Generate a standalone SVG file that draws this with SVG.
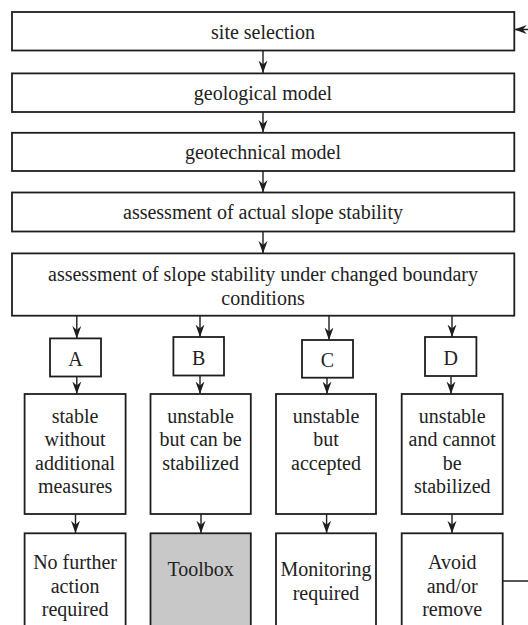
<svg xmlns="http://www.w3.org/2000/svg" width="528" height="625" viewBox="0 0 528 625">
<defs>
<style>
.box{fill:#fff;stroke:#1e1e1e;stroke-width:1.8}
.grey{fill:#c8c8c8;stroke:#1e1e1e;stroke-width:1.8}
.t{font-family:'Liberation Serif','DejaVu Serif',serif;font-size:20px;fill:#222;text-anchor:middle}
.c{fill:none;stroke:#1e1e1e;stroke-width:1.4}
</style>
<marker id="ah" markerUnits="userSpaceOnUse" markerWidth="13" markerHeight="10" viewBox="0 0 13 10" refX="12.5" refY="5" orient="auto">
<path d="M0,0.5 L12.5,5 L0,9.5 L4,5 Z" fill="#1e1e1e"/>
</marker>
</defs>
<g id="connectors">
<line class="c" x1="263" y1="50.5" x2="263" y2="73" marker-end="url(#ah)"/>
<line class="c" x1="263" y1="112" x2="263" y2="132.5" marker-end="url(#ah)"/>
<line class="c" x1="263" y1="171" x2="263" y2="192.5" marker-end="url(#ah)"/>
<line class="c" x1="263" y1="231.5" x2="263" y2="253.4" marker-end="url(#ah)"/>
<line class="c" x1="76.8" y1="315.7" x2="76.8" y2="338.4" marker-end="url(#ah)"/>
<line class="c" x1="200" y1="315.7" x2="200" y2="337" marker-end="url(#ah)"/>
<line class="c" x1="329" y1="315.7" x2="329" y2="340" marker-end="url(#ah)"/>
<line class="c" x1="452" y1="315.7" x2="452" y2="337" marker-end="url(#ah)"/>
<line class="c" x1="76.8" y1="376.5" x2="76.8" y2="394" marker-end="url(#ah)"/>
<line class="c" x1="200" y1="375.5" x2="200" y2="394" marker-end="url(#ah)"/>
<line class="c" x1="327" y1="377.7" x2="327" y2="394" marker-end="url(#ah)"/>
<line class="c" x1="451" y1="376" x2="451" y2="394" marker-end="url(#ah)"/>
<line class="c" x1="75.5" y1="514" x2="75.5" y2="533.3" marker-end="url(#ah)"/>
<line class="c" x1="201" y1="514" x2="201" y2="533.3" marker-end="url(#ah)"/>
<line class="c" x1="326.6" y1="514" x2="326.6" y2="533.3" marker-end="url(#ah)"/>
<line class="c" x1="452" y1="514" x2="452" y2="533.3" marker-end="url(#ah)"/>
<path class="c" d="M502.7,581 H545 V29.5 H514.3" marker-end="url(#ah)"/>
</g>
<g font-family="Liberation Serif, DejaVu Serif, serif">
<g id="site"><rect class="box" x="12" y="12" width="502.3" height="38.5"/><text class="t" x="263" y="38.5">site selection</text></g>
<g id="geological"><rect class="box" x="12" y="73.4" width="502.3" height="38.6"/><text class="t" x="263" y="99.5">geological model</text></g>
<g id="geotechnical"><rect class="box" x="12" y="132.8" width="502.3" height="38.2"/><text class="t" x="263" y="158.5">geotechnical model</text></g>
<g id="actual"><rect class="box" x="12" y="192.5" width="502.3" height="39"/><text class="t" x="263" y="218.5">assessment of actual slope stability</text></g>
<g id="changed"><rect class="box" x="12" y="253.4" width="502.3" height="62.3"/><text class="t" x="263" y="281">assessment of slope stability under changed boundary</text><text class="t" x="263" y="304.5">conditions</text></g>
<g id="A"><rect class="box" x="50" y="338.4" width="51" height="38.1"/><text class="t" x="75.5" y="366">A</text></g>
<g id="B"><rect class="box" x="173.4" y="337" width="50.6" height="38.5"/><text class="t" x="198.7" y="364.7">B</text></g>
<g id="C"><rect class="box" x="302" y="340" width="51" height="37.7"/><text class="t" x="327.5" y="367">C</text></g>
<g id="D"><rect class="box" x="425" y="337" width="51.4" height="39"/><text class="t" x="450.7" y="365">D</text></g>
<g id="stable"><rect class="box" x="24.6" y="394" width="101" height="120"/><text class="t" x="75.1" y="422.6">stable</text><text class="t" x="75.1" y="446">without</text><text class="t" x="75.1" y="469.7">additional</text><text class="t" x="75.1" y="493">measures</text></g>
<g id="stabilizable"><rect class="box" x="150.5" y="394" width="100.3" height="120"/><text class="t" x="200.6" y="422.6">unstable</text><text class="t" x="200.6" y="446">but can be</text><text class="t" x="200.6" y="469.7">stabilized</text></g>
<g id="accepted"><rect class="box" x="276" y="394" width="100" height="120"/><text class="t" x="326" y="422.6">unstable</text><text class="t" x="326" y="446">but</text><text class="t" x="326" y="469.7">accepted</text></g>
<g id="notstabilizable"><rect class="box" x="401.7" y="394" width="101" height="120"/><text class="t" x="452.2" y="422.6">unstable</text><text class="t" x="452.2" y="446">and cannot</text><text class="t" x="452.2" y="469.7">be</text><text class="t" x="452.2" y="493">stabilized</text></g>
<g id="nofurther"><rect class="box" x="24.6" y="533.3" width="101" height="110"/><text class="t" x="75.1" y="568.6">No further</text><text class="t" x="75.1" y="593">action</text><text class="t" x="75.1" y="615.8">required</text></g>
<g id="toolbox"><rect class="grey" x="150.5" y="533.3" width="100.3" height="110"/><text class="t" x="200.6" y="576">Toolbox</text></g>
<g id="monitoring"><rect class="box" x="276" y="533.3" width="100" height="110"/><text class="t" x="326" y="576">Monitoring</text><text class="t" x="326" y="599.6">required</text></g>
<g id="avoid"><rect class="box" x="401.7" y="533.3" width="101" height="110"/><text class="t" x="452.2" y="568.6">Avoid</text><text class="t" x="452.2" y="593">and/or</text><text class="t" x="452.2" y="616">remove</text></g>
</g>
</svg>
